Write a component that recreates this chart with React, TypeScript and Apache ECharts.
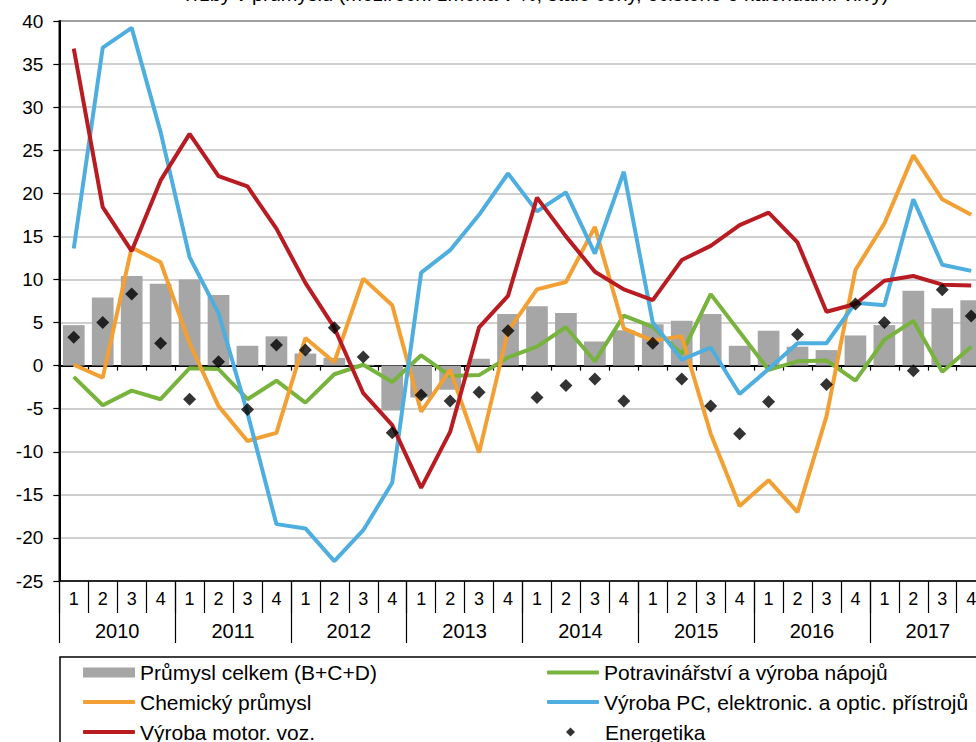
import React, { useEffect, useRef } from 'react';
import * as echarts from 'echarts';

const years = ['2010', '2011', '2012', '2013', '2014', '2015', '2016', '2017'];
const quarterNames = ['1', '2', '3', '4'];
const quarterKeys = years.flatMap((y) => quarterNames.map((q) => `${y} ${q}`));

const titleText = 'Tržby v průmyslu (meziroční změna v %, stálé ceny, očištěno o kalendářní vlivy)';

const prumyslCelkem = [
  4.7, 7.9, 10.4, 9.5,
  10.0, 8.2, 2.3, 3.4,
  1.4, 0.9, 0.1, -5.2,
  -3.7, -2.8, 0.8, 6.0,
  6.9, 6.1, 2.8, 4.1,
  4.8, 5.2, 6.0, 2.3,
  4.05, 2.2, 1.8, 3.5,
  4.7, 8.7, 6.65, 7.6,
];
const potravinarstvi = [
  -1.3, -4.6, -2.9, -3.9,
  -0.3, -0.4, -3.9, -1.75,
  -4.3, -1.0, 0.1, -1.9,
  1.2, -1.2, -1.1, 0.95,
  2.2, 4.45, 0.5, 5.8,
  4.5, 1.35, 8.3, 3.9,
  -0.5, 0.5, 0.6, -1.75,
  3.0, 5.2, -0.7, 2.2,
];
const chemicky = [
  0.1, -1.4, 13.7, 12.0,
  2.6, -4.7, -8.75, -7.8,
  3.2, 0.4, 10.1, 7.0,
  -5.35, -0.5, -10.1, 4.0,
  8.85, 9.7, 16.1, 4.3,
  2.9, 3.4, -7.9, -16.3,
  -13.3, -17.0, -5.9, 11.1,
  16.5, 24.4, 19.3, 17.5,
];
const vyrobaPC = [
  13.6, 36.9, 39.2, 27.1,
  12.6, 6.1, -5.5, -18.4,
  -18.9, -22.7, -19.1, -13.6,
  10.8, 13.4, 17.5, 22.3,
  17.9, 20.1, 13.0, 22.5,
  5.0, 0.7, 2.1, -3.3,
  -0.4, 2.6, 2.6, 7.3,
  7.0, 19.3, 11.7, 11.0,
];
const motorVoz = [
  36.8, 18.4, 13.3, 21.5,
  26.9, 22.0, 20.8, 15.9,
  9.6, 4.4, -3.2, -6.9,
  -14.2, -7.7, 4.45, 8.1,
  19.5, 15.0, 10.9, 8.85,
  7.6, 12.25, 13.9, 16.3,
  17.75, 14.3, 6.25, 7.15,
  9.85, 10.4, 9.4, 9.3,
];
const energetika = [
  3.3, 5.0, 8.3, 2.6,
  -3.9, 0.45, -5.1, 2.4,
  1.8, 4.4, 1.0, -7.8,
  -3.4, -4.1, -3.1, 4.05,
  -3.7, -2.3, -1.55, -4.1,
  2.6, -1.55, -4.7, -7.9,
  -4.2, 3.6, -2.2, 7.15,
  5.0, -0.6, 8.8, 5.75,
];

const names = {
  bar: 'Průmysl celkem (B+C+D)',
  food: 'Potravinářství a výroba nápojů',
  chem: 'Chemický průmysl',
  pc: 'Výroba PC, elektronic. a optic. přístrojů',
  motor: 'Výroba motor. voz.',
  energy: 'Energetika',
};

const FONT = 'Liberation Sans, Arial, sans-serif';

export default function App() {
  const ref = useRef<HTMLDivElement>(null);

  useEffect(() => {
    const chart = echarts.init(ref.current as HTMLDivElement, null, { renderer: 'svg' });
    const legendText = { fontSize: 21, color: '#000', fontFamily: FONT };
    const mkLegend = (name: string, left: number, top: number, extra: any = {}) => ({
      data: [name],
      left,
      top,
      padding: 0,
      itemWidth: 52,
      itemHeight: 4,
      icon: 'roundRect',
      selectedMode: false,
      textStyle: legendText,
      ...extra,
    });
    const rowTop = [662, 691.5, 721.5];

    chart.setOption({
      animation: false,
      textStyle: { fontFamily: FONT },
      grid: {
        left: 59.3,
        top: 21,
        width: 926.4,
        height: 560,
        show: true,
        borderColor: '#000',
        borderWidth: 1.5,
        backgroundColor: 'transparent',
      },
      legend: [
        mkLegend(names.bar, 83, rowTop[0], { icon: 'rect', itemHeight: 10 }),
        mkLegend(names.chem, 83, rowTop[1]),
        mkLegend(names.motor, 83, rowTop[2]),
        mkLegend(names.food, 547, rowTop[0]),
        mkLegend(names.pc, 547, rowTop[1]),
        mkLegend(names.energy, 566, rowTop[2], {
          icon: 'diamond',
          itemWidth: 9,
          itemHeight: 9,
          textStyle: { ...legendText, padding: [0, 0, 0, 25] },
        }),
      ],
      graphic: [
        {
          type: 'rect',
          z: -10,
          shape: { x: 60, y: 657, width: 1000, height: 200 },
          style: { fill: 'none', stroke: '#000', lineWidth: 1.5 },
        },
        {
          type: 'text',
          x: 535,
          y: 4,
          style: {
            text: titleText,
            fontSize: 20,
            fontFamily: FONT,
            fill: '#000',
            align: 'center',
            verticalAlign: 'bottom',
          },
        },
      ],
      xAxis: [
        {
          type: 'category',
          data: quarterKeys,
          position: 'bottom',
          axisLine: { onZero: false, lineStyle: { color: '#000', width: 1.5 } },
          axisTick: { show: true, interval: 0, length: 32, lineStyle: { color: '#000', width: 1.2 } },
          axisLabel: {
            interval: 0,
            fontSize: 18,
            color: '#000',
            margin: 18,
            verticalAlign: 'middle',
            formatter: (v: string) => v.split(' ')[1],
          },
          splitLine: { show: false },
        },
        {
          type: 'category',
          data: years,
          position: 'bottom',
          axisLine: { show: false, onZero: false },
          axisTick: { show: true, interval: 0, length: 62, lineStyle: { color: '#000', width: 1.2 } },
          axisLabel: { interval: 0, fontSize: 20, color: '#000', margin: 49.5, verticalAlign: 'middle' },
          splitLine: { show: false },
        },
        {
          type: 'category',
          data: quarterKeys,
          position: 'bottom',
          axisLine: { show: true, onZero: true, onZeroAxisIndex: 0, lineStyle: { color: '#000', width: 2 } },
          axisTick: { show: true, interval: 0, length: 5, lineStyle: { color: '#000', width: 1.2 } },
          axisLabel: { show: false },
          splitLine: { show: false },
        },
      ],
      yAxis: {
        type: 'value',
        min: -25,
        max: 40,
        interval: 5,
        axisLine: { show: true, lineStyle: { color: '#000', width: 2 } },
        axisTick: { show: true, length: 6, lineStyle: { color: '#000', width: 1.2 } },
        axisLabel: { fontSize: 19, color: '#000', margin: 16 },
        splitLine: { show: true, lineStyle: { color: '#BFBFBF', width: 1.5 } },
      },
      series: [
        {
          name: names.bar,
          type: 'bar',
          data: prumyslCelkem,
          barCategoryGap: '25%',
          itemStyle: { color: '#A6A6A6' },
        },
        {
          name: names.food,
          type: 'line',
          data: potravinarstvi,
          symbol: 'none',
          itemStyle: { color: '#78B33E' },
          lineStyle: { color: '#78B33E', width: 4 },
        },
        {
          name: names.chem,
          type: 'line',
          data: chemicky,
          symbol: 'none',
          itemStyle: { color: '#F2A033' },
          lineStyle: { color: '#F2A033', width: 4 },
        },
        {
          name: names.pc,
          type: 'line',
          data: vyrobaPC,
          symbol: 'none',
          itemStyle: { color: '#4EAEDF' },
          lineStyle: { color: '#4EAEDF', width: 4 },
        },
        {
          name: names.motor,
          type: 'line',
          data: motorVoz,
          symbol: 'none',
          itemStyle: { color: '#B81C22' },
          lineStyle: { color: '#B81C22', width: 4 },
        },
        {
          name: names.energy,
          type: 'scatter',
          data: energetika,
          symbol: 'diamond',
          symbolSize: 13,
          itemStyle: { color: '#000' },
          z: 5,
        },
      ],
    });
    return () => chart.dispose();
  }, []);

  return (
    <div
      style={{
        position: 'fixed',
        left: 0,
        top: 0,
        width: 976,
        height: 742,
        overflow: 'hidden',
        background: '#fff',
      }}
    >
      <div ref={ref} style={{ width: 1000, height: 742 }} />
    </div>
  );
}
